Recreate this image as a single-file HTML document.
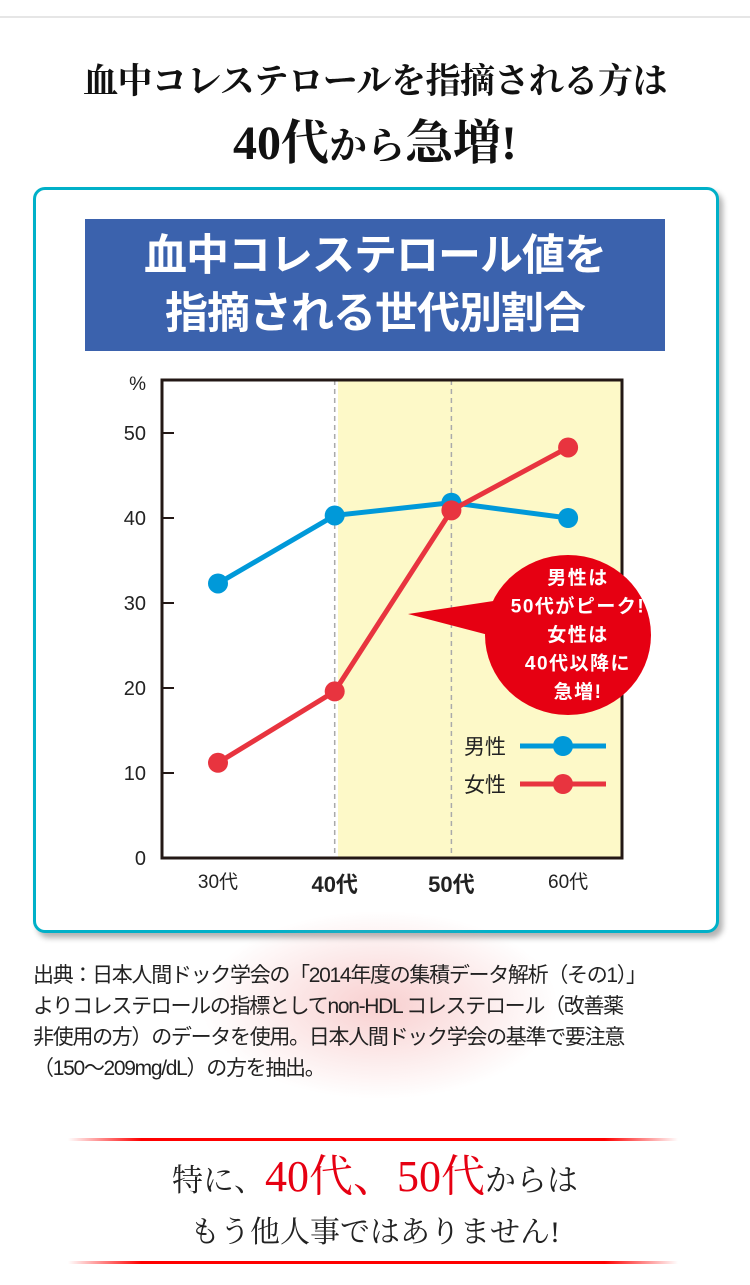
<!DOCTYPE html>
<html><head><meta charset="utf-8">
<style>
body{margin:0;width:750px;height:1285px;background:#fff;position:relative;overflow:hidden;font-family:"Liberation Sans","Noto Sans CJK JP",sans-serif}
.abs{position:absolute}
.serif{font-family:"Liberation Serif","Noto Serif CJK SC",serif}
</style></head><body>
<div class="abs" style="left:0;top:16px;width:750px;height:2px;background:#e6e6e6"></div>
<div class="abs serif" style="left:0;top:54px;width:750px;text-align:center;font-size:35px;font-weight:bold;color:#111;letter-spacing:-0.5px">血中コレステロールを指摘される方は</div>
<div class="abs serif" style="left:0;top:104px;width:750px;text-align:center;font-size:48px;font-weight:bold;color:#111">40代<span style="font-size:38px">から</span>急増!</div>
<div class="abs" style="left:33px;top:187px;width:680px;height:740px;border:3px solid #00b0c8;border-radius:12px;box-shadow:4px 5px 6px rgba(0,0,0,0.3);background:#fff"></div>
<div class="abs" style="left:85px;top:219px;width:580px;height:132px;background:#3b62ad;color:#fff;text-align:center;font-size:43px;font-weight:bold;line-height:58px;padding-top:8px;box-sizing:border-box;letter-spacing:-1px">血中コレステロール値を<br>指摘される世代別割合</div>
<svg class="abs" style="left:0;top:0" width="750" height="1285" id="chart"></svg>
<div class="abs" style="left:200px;top:910px;width:360px;height:190px;background:radial-gradient(ellipse at center,rgba(240,150,150,0.45),rgba(255,255,255,0) 70%)"></div>
<div class="abs" style="left:33px;top:960px;width:700px;font-size:21px;line-height:31px;color:#222;letter-spacing:-1.3px;white-space:nowrap">出典：日本人間ドック学会の「2014年度の集積データ解析（その1）」<br>よりコレステロールの指標としてnon-HDL コレステロール（改善薬<br>非使用の方）のデータを使用。日本人間ドック学会の基準で要注意<br>（150〜209mg/dL）の方を抽出。</div>
<div class="abs" style="left:68px;top:1138px;width:610px;height:3px;background:linear-gradient(90deg,rgba(255,0,0,0),#f00 12%,#f00 88%,rgba(255,0,0,0))"></div>
<div class="abs serif" style="left:0;top:1152px;width:750px;text-align:center;font-size:31px;color:#222;line-height:50px">特に、<span style="color:#e60012;font-size:44px">40代、50代</span>からは</div>
<div class="abs serif" style="left:0;top:1207px;width:750px;text-align:center;font-size:30px;color:#222">もう他人事ではありません!</div>
<div class="abs" style="left:68px;top:1261px;width:610px;height:3px;background:linear-gradient(90deg,rgba(255,0,0,0),#f00 12%,#f00 88%,rgba(255,0,0,0))"></div>
<script>
const categories=["30代","40代","50代","60代"];
const maleValues=[32.3,40.3,41.8,40.0];
const femaleValues=[11.2,19.6,40.9,48.3];
const yTicks=[0,10,20,30,40,50];
const NS="http://www.w3.org/2000/svg";
const svg=document.getElementById('chart');
function xPos(i){return 218+i*116.7;}
function yPos(v){return 858-v*8.5;}
function mk(t,a,p){const e=document.createElementNS(NS,t);for(const k in a)e.setAttribute(k,a[k]);(p||svg).appendChild(e);return e;}
let e;
e=mk('rect',{x:338,y:380,width:284,height:478,fill:'#fdf9c8'});


[1,2].forEach(i=>{e=mk('line',{x1:xPos(i),x2:xPos(i),y1:380,y2:858,stroke:'#aaa','stroke-width':1.5,'stroke-dasharray':'5,4'});

});
e=mk('rect',{x:162,y:380,width:460,height:478,fill:'none',stroke:'#231815','stroke-width':3});


yTicks.forEach(v=>{e=mk('line',{x1:162,x2:174,y1:yPos(v),y2:yPos(v),stroke:'#231815','stroke-width':2});


e=mk('text',{x:146,y:yPos(v)+7,'text-anchor':'end','font-size':20,fill:'#222'});e.textContent=v;

});
e=mk('text',{x:146,y:390,'text-anchor':'end','font-size':19,fill:'#222'});e.textContent='%';


categories.forEach((c,i)=>{const b=(i==1||i==2);e=mk('text',{x:xPos(i),y:b?892:888,'text-anchor':'middle','font-size':b?22:19,'font-weight':b?'bold':'normal',fill:'#222'});e.textContent=c;

});
function series(vals,col,name){
e=mk('polyline',{points:vals.map((v,i)=>xPos(i)+','+yPos(v)).join(' '),fill:'none',stroke:col,'stroke-width':5});


vals.forEach((v,i)=>{e=mk('circle',{cx:xPos(i),cy:yPos(v),r:10,fill:col});

});}
series(maleValues,'#0099d9','male');
series(femaleValues,'#e8343f','female');
[['男性','#0099d9',746],['女性','#e8343f',784]].forEach(([t,c,y],k)=>{
e=mk('line',{x1:520,x2:606,y1:y,y2:y,stroke:c,'stroke-width':5});


e=mk('circle',{cx:563,cy:y,r:10,fill:c});


e=mk('text',{x:464,y:y+8,'font-size':21,fill:'#222'});e.textContent=t;

});
e=mk('polygon',{points:'408,614 500,600 500,638',fill:'#e60012'});


e=mk('ellipse',{cx:568,cy:635,rx:83,ry:80,fill:'#e60012'});


['男性は','50代がピーク!','女性は','40代以降に','急増!'].forEach((t,i)=>{e=mk('text',{x:578,y:584+i*28.5,'text-anchor':'middle','font-size':19,'font-weight':'bold',fill:'#fff','letter-spacing':1.5});e.textContent=t;

});
</script>
</body></html>
